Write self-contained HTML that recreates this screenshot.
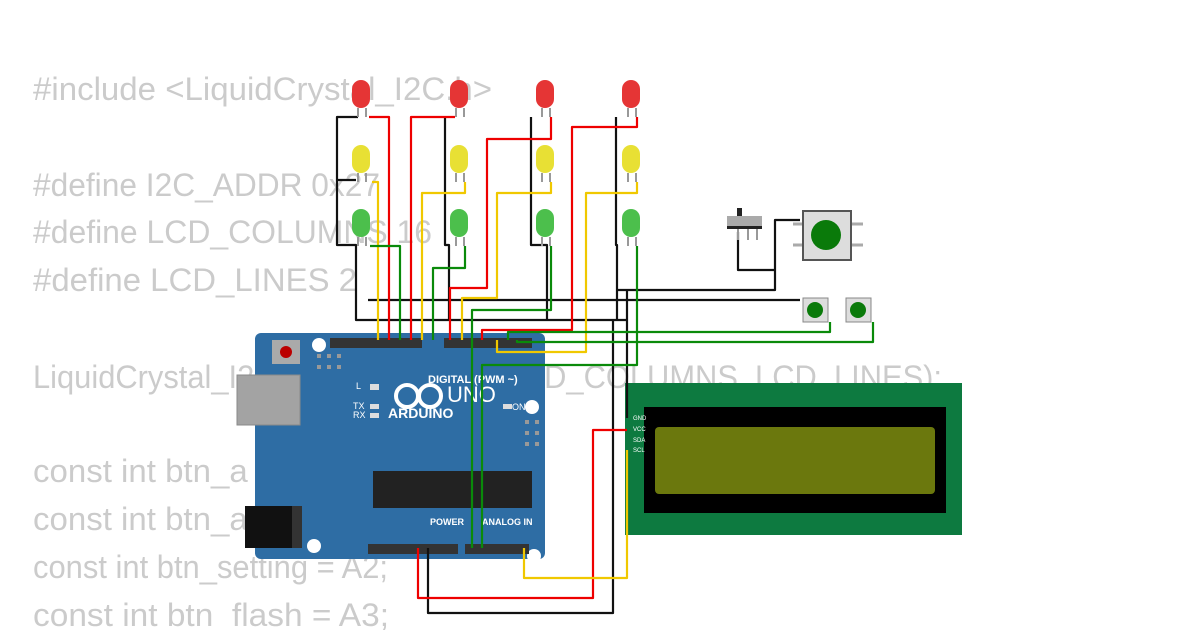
<!DOCTYPE html>
<html><head><meta charset="utf-8"><style>
html,body{margin:0;padding:0;background:#fff;width:1200px;height:630px;overflow:hidden}
svg{display:block}
.code{font-family:"Liberation Sans",sans-serif;font-size:32px;fill:#cbcbcb;white-space:pre}
</style></head><body>
<svg width="1200" height="630" viewBox="0 0 1200 630" xmlns="http://www.w3.org/2000/svg">
<g class="code" xml:space="preserve">
<text x="33" y="100" textLength="459" lengthAdjust="spacingAndGlyphs">#include &lt;LiquidCrystal_I2C.h&gt;</text>
<text x="33" y="196" textLength="347" lengthAdjust="spacingAndGlyphs">#define I2C_ADDR    0x27</text>
<text x="33" y="243" textLength="399" lengthAdjust="spacingAndGlyphs">#define LCD_COLUMNS 16</text>
<text x="33" y="291" textLength="324" lengthAdjust="spacingAndGlyphs">#define LCD_LINES   2</text>
<text x="33" y="388" textLength="909" lengthAdjust="spacingAndGlyphs">LiquidCrystal_I2C lcd(I2C_ADDR, LCD_COLUMNS, LCD_LINES);</text>
<text x="33" y="482" textLength="300" lengthAdjust="spacingAndGlyphs">const int btn_a = A0;</text>
<text x="33" y="530" textLength="300" lengthAdjust="spacingAndGlyphs">const int btn_a = A1;</text>
<text x="33" y="578" textLength="355" lengthAdjust="spacingAndGlyphs">const int btn_setting = A2;</text>
<text x="33" y="626" textLength="356" lengthAdjust="spacingAndGlyphs">const int btn_flash = A3;</text>
</g>

<rect x="255" y="333" width="290" height="226" rx="6" fill="#2e6da4"/>
<rect x="237" y="375" width="63" height="50" fill="#a3a3a3" stroke="#8a8a8a"/>
<rect x="245" y="506" width="57" height="42" fill="#111"/>
<rect x="292" y="506" width="10" height="42" fill="#333"/>
<rect x="272" y="340" width="28" height="24" fill="#aaa"/>
<circle cx="286" cy="352" r="6" fill="#b00"/>
<circle cx="319" cy="345" r="7" fill="#fff"/><circle cx="314" cy="546" r="7" fill="#fff"/>
<circle cx="532" cy="407" r="7" fill="#fff"/><circle cx="534" cy="556" r="7" fill="#fff"/>
<g fill="#999"><rect x="317" y="354" width="4" height="4"/><rect x="327" y="354" width="4" height="4"/><rect x="337" y="354" width="4" height="4"/><rect x="317" y="365" width="4" height="4"/><rect x="327" y="365" width="4" height="4"/><rect x="337" y="365" width="4" height="4"/>
<rect x="525" y="420" width="4" height="4"/><rect x="535" y="420" width="4" height="4"/><rect x="525" y="431" width="4" height="4"/><rect x="535" y="431" width="4" height="4"/><rect x="525" y="442" width="4" height="4"/><rect x="535" y="442" width="4" height="4"/></g>
<rect x="330" y="338" width="92" height="10" fill="#333"/>
<rect x="444" y="338" width="88" height="10" fill="#333"/>
<rect x="368" y="544" width="90" height="10" fill="#333"/>
<rect x="465" y="544" width="64" height="10" fill="#333"/>
<rect x="373" y="471" width="159" height="37" fill="#222"/>
<g font-family="Liberation Sans,sans-serif" fill="#fff">
<text x="428" y="383" font-size="11" font-weight="bold">DIGITAL (PWM ~)</text>
<text x="388" y="418" font-size="14" font-weight="bold">ARDUINO</text>
<text x="447" y="402" font-size="22">UNO</text>
<text x="512" y="410" font-size="9">ON</text>
<text x="356" y="389" font-size="9">L</text>
<text x="353" y="409" font-size="9">TX</text>
<text x="353" y="418" font-size="9">RX</text>
<text x="430" y="525" font-size="9" font-weight="bold">POWER</text>
<text x="482" y="525" font-size="9" font-weight="bold">ANALOG IN</text>
</g>
<circle cx="407" cy="396" r="11" fill="none" stroke="#fff" stroke-width="4"/>
<circle cx="430" cy="396" r="11" fill="none" stroke="#fff" stroke-width="4"/>
<g fill="#ddd"><rect x="370" y="384" width="9" height="6"/><rect x="370" y="404" width="9" height="5"/><rect x="370" y="413" width="9" height="5"/><rect x="503" y="404" width="9" height="5"/></g>

<rect x="625" y="383" width="337" height="152" fill="#0d7a40"/>
<rect x="644" y="407" width="302" height="106" fill="#000"/>
<rect x="655" y="427" width="280" height="67" rx="4" fill="#6b780d"/>
<g font-family="Liberation Sans,sans-serif" font-size="6" fill="#fff"><text x="633" y="420">GND</text><text x="633" y="431">VCC</text><text x="633" y="442">SDA</text><text x="633" y="452">SCL</text></g>

<g fill="none" stroke-width="2.2" stroke-linejoin="round">
<path stroke="#111" d="M358 117 H337 V245 H356 V320 H627 V290 M337 180 H356 M368 300 H800 M445 117 V245 H449 V320 M531 117 V245 H547 V320 M616 117 V245 H617 V320 M617 290 H775 V232 M775 270 H738 V232 M775 232 V220 H800 M613 320 V613 H428 V548 M627 320 V418"/>
<path stroke="#e00" d="M369 117 H389 V340 M455 117 H411 V340 M551 117 V139 H487 V288 H450 V340 M637 117 V127 H572 V330 H482 V340 M418 548 V598 H593 V430 H627"/>
<path stroke="#f0c800" d="M372 182 H378 V340 M465 182 V193 H422 V340 M551 182 V193 H497 V298 H462 V340 M637 182 V193 H586 V352 H497 V340 M524 548 V578 H627 V450"/>
<path stroke="#0a8a0a" d="M370 246 H400 V340 M465 246 V268 H433 V340 M551 246 V310 H472 V548 M637 246 V365 H482 V548 M508 340 V332 H830 V322 M517 340 V342 H873 V322"/>
</g>

<g stroke="#999" stroke-width="2">
<path d="M358 108V117M366 108V117M456 108V117M464 108V117M542 108V117M550 108V117M628 108V117M636 108V117"/>
<path d="M358 173V182M366 173V182M456 173V182M464 173V182M542 173V182M550 173V182M628 173V182M636 173V182"/>
<path d="M358 237V246M366 237V246M456 237V246M464 237V246M542 237V246M550 237V246M628 237V246M636 237V246"/>
</g>
<g fill="#e53535"><rect x="352" y="80" width="18" height="28" rx="9"/><rect x="450" y="80" width="18" height="28" rx="9"/><rect x="536" y="80" width="18" height="28" rx="9"/><rect x="622" y="80" width="18" height="28" rx="9"/></g>
<g fill="#e8e034"><rect x="352" y="145" width="18" height="28" rx="9"/><rect x="450" y="145" width="18" height="28" rx="9"/><rect x="536" y="145" width="18" height="28" rx="9"/><rect x="622" y="145" width="18" height="28" rx="9"/></g>
<g fill="#4cbf4c"><rect x="352" y="209" width="18" height="28" rx="9"/><rect x="450" y="209" width="18" height="28" rx="9"/><rect x="536" y="209" width="18" height="28" rx="9"/><rect x="622" y="209" width="18" height="28" rx="9"/></g>

<rect x="737" y="208" width="5" height="10" fill="#222"/>
<rect x="727" y="216" width="35" height="10" fill="#aaa"/>
<rect x="727" y="226" width="35" height="3" fill="#222"/>
<g stroke="#999" stroke-width="2"><path d="M738 229V240M748 229V240M757 229V240"/></g>

<g stroke="#aaa" stroke-width="3"><path d="M793 224H803M851 224H863M793 245H803M851 245H863"/></g>
<rect x="803" y="211" width="48" height="49" fill="#ddd" stroke="#555" stroke-width="2"/>
<circle cx="826" cy="235" r="15" fill="#0a7a0a"/>
<rect x="803" y="298" width="25" height="24" fill="#ddd" stroke="#888"/>
<circle cx="815" cy="310" r="8" fill="#0a7a0a"/>
<rect x="846" y="298" width="25" height="24" fill="#ddd" stroke="#888"/>
<circle cx="858" cy="310" r="8" fill="#0a7a0a"/>
</svg>
</body></html>
